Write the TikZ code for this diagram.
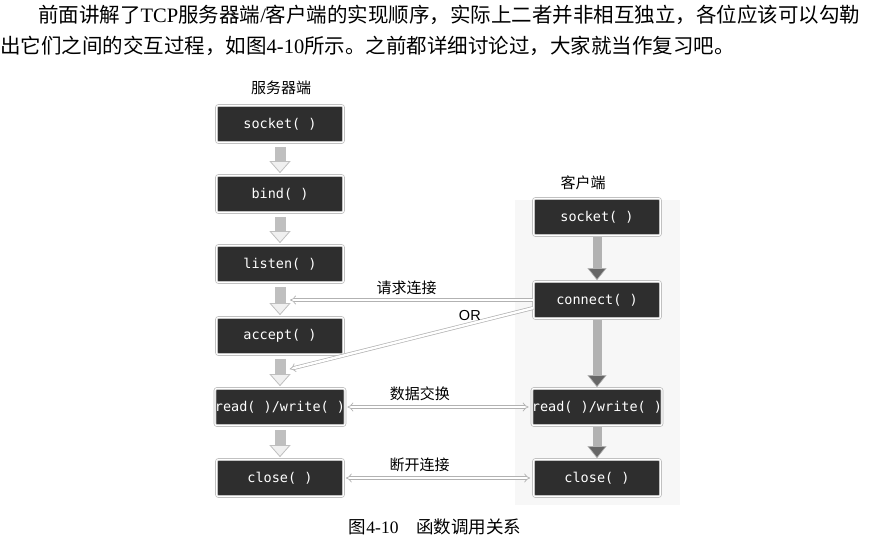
\documentclass[tikz,border=0pt]{standalone}
\usepackage{fontspec}
\setmainfont{Liberation Serif}
\newfontfamily\cjk{Noto Sans CJK SC}
\newfontfamily\codefont{DejaVu Sans Mono}
\newfontfamily\orfont{Liberation Sans}
\usetikzlibrary{arrows.meta}

\tikzset{
  testo/.style={anchor=west, inner sep=0pt, font=\cjk\fontsize{20.5}{20.5}\selectfont},
  etichetta/.style={font=\cjk\fontsize{15}{15}\selectfont},
  didascalia/.style={font=\cjk\fontsize{17.5}{17.5}\selectfont},
  funzione/.style={fill=black!82, draw=gray!55, double=white, double distance=1.2pt,
    line width=0.7pt, rounded corners=2pt, minimum width=127pt, minimum height=37pt,
    inner sep=0pt, text=white, font=\codefont\fontsize{13.5}{13.5}\selectfont},
  sfreccia/.style={draw=gray!50, line width=11pt, shorten <=4pt, shorten >=2pt,
    -{Triangle[width=21pt,length=12pt,fill=gray!12,line width=0.8pt]}},
  cfreccia/.style={draw=gray!60, line width=9pt, shorten <=1pt, shorten >=1pt,
    -{Triangle[width=19pt,length=12pt,fill=black!60,line width=0.6pt]}},
  collega/.style={draw=gray!60, double=white, double distance=2.4pt, line width=0.7pt}
}

\begin{document}
\begin{tikzpicture}[x=1pt,y=-1pt]
    \useasboundingbox (0,0) rectangle (871,542);

    % Testo sopra la figura
    \node[testo] (riga1) at (38,15) {前面讲解了{\rmfamily TCP}服务器端{\rmfamily /}客户端的实现顺序，实际上二者并非相互独立，各位应该可以勾勒};
    \node[testo] (riga2) at (0,46) {出它们之间的交互过程，如图{\rmfamily 4-10}所示。之前都详细讨论过，大家就当作复习吧。};

    % Sfondo grigio del client
    \fill[gray!6] (515,200) rectangle (680,505);

    \node[etichetta] (tserver) at (281,88) {服务器端};
    \node[etichetta] (tclient) at (583,183) {客户端};

    % Lato server
    \node[funzione] (ssock) at (280,124) {socket( )};
    \node[funzione] (sbind) at (280,194) {bind( )};
    \node[funzione] (slist) at (280,264) {listen( )};
    \node[funzione] (sacc) at (280,336) {accept( )};
    \node[funzione] (srw) at (280,407) {read( )/write( )};
    \node[funzione] (sclose) at (280,478) {close( )};

    \draw[sfreccia] (ssock) -- (sbind);
    \draw[sfreccia] (sbind) -- (slist);
    \draw[sfreccia] (slist) -- coordinate (la) (sacc);
    \draw[sfreccia] (sacc) -- coordinate (ar) (srw);
    \draw[sfreccia] (srw) -- (sclose);

    % Lato client
    \node[funzione] (csock) at (597,217) {socket( )};
    \node[funzione] (cconn) at (597,300) {connect( )};
    \node[funzione] (crw) at (597,407) {read( )/write( )};
    \node[funzione] (cclose) at (597,478) {close( )};

    \draw[cfreccia] (csock) -- (cconn);
    \draw[cfreccia] (cconn) -- (crw);
    \draw[cfreccia] (crw) -- (cclose);

    % Collegamenti tra i due lati
    \draw[collega, -{Implies}, shorten >=10pt] (cconn.west) -- (cconn.west -| la)
        node[etichetta, midway, above=2pt] {请求连接};
    \draw[collega, -{Implies}, shorten >=10pt] ([yshift=-8pt]cconn.west) -- (ar)
        node[pos=.25, above, font=\orfont\fontsize{14.5}{14.5}\selectfont] {OR};
    \draw[collega, {Implies}-{Implies}, shorten >=3pt, shorten <=2pt] (srw) -- (crw)
        node[etichetta, pos=.4, above=3pt] {数据交换};
    \draw[collega, {Implies}-{Implies}, shorten >=3pt, shorten <=2pt] (sclose) -- (cclose)
        node[etichetta, pos=.4, above=3pt] {断开连接};

    \node[didascalia] (cap) at (435,527) {图{\rmfamily 4-10}\hspace{1em}函数调用关系};
\end{tikzpicture}
\end{document}
